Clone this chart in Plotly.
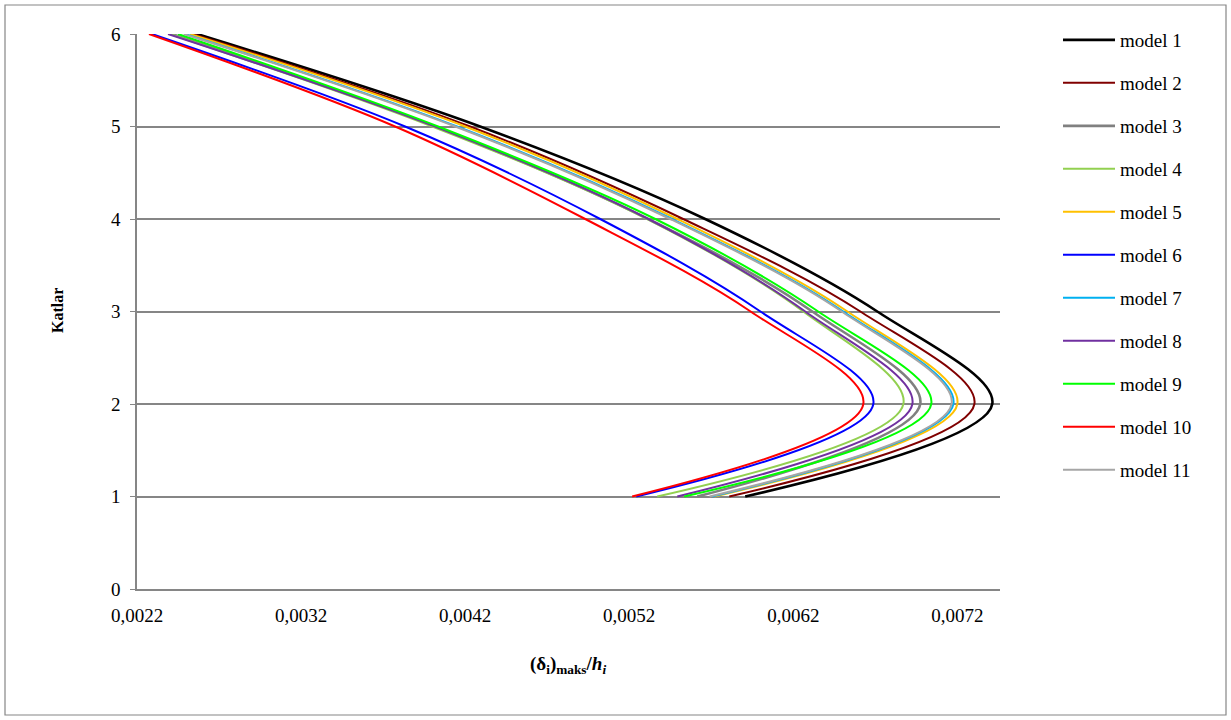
import plotly.graph_objects as go

floors = [1, 2, 3, 4, 5, 6]
model_names = ["model 1", "model 2", "model 3", "model 4", "model 5", "model 6",
               "model 7", "model 8", "model 9", "model 10", "model 11"]

m1 = [0.005907, 0.007413, 0.006712, 0.005663, 0.004291, 0.002566]
m2 = [0.005810, 0.007304, 0.006609, 0.005529, 0.004230, 0.002541]
m3 = [0.005615, 0.006974, 0.006316, 0.005316, 0.004017, 0.002413]
m4 = [0.005371, 0.006871, 0.006261, 0.005310, 0.004000, 0.002400]
m5 = [0.005720, 0.007200, 0.006530, 0.005493, 0.004200, 0.002523]
m6 = [0.005243, 0.006688, 0.006000, 0.005023, 0.003834, 0.002291]
m7 = [0.005706, 0.007176, 0.006505, 0.005462, 0.004151, 0.002493]
m8 = [0.005493, 0.006926, 0.006273, 0.005316, 0.004017, 0.002389]
m9 = [0.005535, 0.007041, 0.006352, 0.005359, 0.004035, 0.002450]
m10 = [0.005218, 0.006627, 0.005940, 0.004932, 0.003773, 0.002273]
m11 = [0.005690, 0.007165, 0.006495, 0.005450, 0.004140, 0.002485]

series = [m1, m2, m3, m4, m5, m6, m7, m8, m9, m10, m11]
colors = ["#000000", "#800000", "#808080", "#92D050", "#FFC000", "#0000FF",
          "#00B0F0", "#7030A0", "#00FF00", "#FF0000", "#A6A6A6"]
widths = [2.6, 2, 2.6, 2, 2, 2, 2, 2, 2, 2, 2]

x_ticks = [0.0022, 0.0032, 0.0042, 0.0052, 0.0062, 0.0072]
y_ticks = [0, 1, 2, 3, 4, 5, 6]

FONT = "Liberation Serif, Times New Roman, serif"
FS = 19

fig = go.Figure()
for name, vals, c, w in zip(model_names, series, colors, widths):
    fig.add_trace(go.Scatter(
        x=vals, y=floors, mode="lines", name=name, legendgroup=name,
        line=dict(color=c, width=w, shape="spline", smoothing=1.0),
    ))

L, R, T, B = 137, 231, 34, 131
W, H = 1231, 720
pw, ph = W - L - R, H - T - B

fig.update_layout(
    width=W, height=H,
    margin=dict(l=L, r=R, t=T, b=B, pad=0),
    paper_bgcolor="white", plot_bgcolor="white",
    separators=", ",
    font=dict(family=FONT, size=FS, color="black"),
    showlegend=True,
    legend=dict(
        x=(1058 - L) / pw, y=(589 - 21) / ph, xanchor="left", yanchor="top",
        font=dict(family=FONT, size=FS, color="black"),
        tracegroupgap=15.3, itemwidth=52, bgcolor="rgba(0,0,0,0)",
        maxheight=700,
    ),
    xaxis=dict(
        range=[0.0022, 0.00746], tickvals=x_ticks, tickformat=".4f",
        showgrid=False, zeroline=False, showline=True, linecolor="#868686",
        linewidth=1.5, ticks="", ticklabelstandoff=8,
        tickfont=dict(family=FONT, size=FS),
    ),
    yaxis=dict(
        range=[0, 6], tickvals=y_ticks, showgrid=True, gridcolor="#868686",
        gridwidth=1.8, zeroline=False, showline=True, linecolor="#868686",
        linewidth=1.5, ticks="outside", ticklen=5, tickcolor="#868686",
        ticklabelstandoff=6,
        tickfont=dict(family=FONT, size=FS),
    ),
    shapes=[dict(
        type="rect", xref="paper", yref="paper",
        x0=(5 - L) / pw, x1=(1226 - L) / pw,
        y0=(589 - 715) / ph, y1=(589 - 5) / ph,
        line=dict(color="#868686", width=1.2), fillcolor="rgba(0,0,0,0)", layer="below",
    )],
    annotations=[
        dict(text="<b>(δ<sub>i</sub>)<sub>maks</sub>/<i>h<sub>i</sub></i></b>",
             xref="paper", yref="paper", x=(568 - L) / pw, y=(589 - 665) / ph,
             xanchor="center", yanchor="middle", showarrow=False,
             font=dict(family=FONT, size=FS)),
        dict(text="<b>Katlar</b>", textangle=-90,
             xref="paper", yref="paper", x=(57 - L) / pw, y=(589 - 311) / ph,
             xanchor="center", yanchor="middle", showarrow=False,
             font=dict(family=FONT, size=16)),
    ],
)

fig.write_html(
    "out.html",
    config={"displayModeBar": False},
    post_script="document.body.style.margin='0';document.body.style.overflow='hidden';",
)
